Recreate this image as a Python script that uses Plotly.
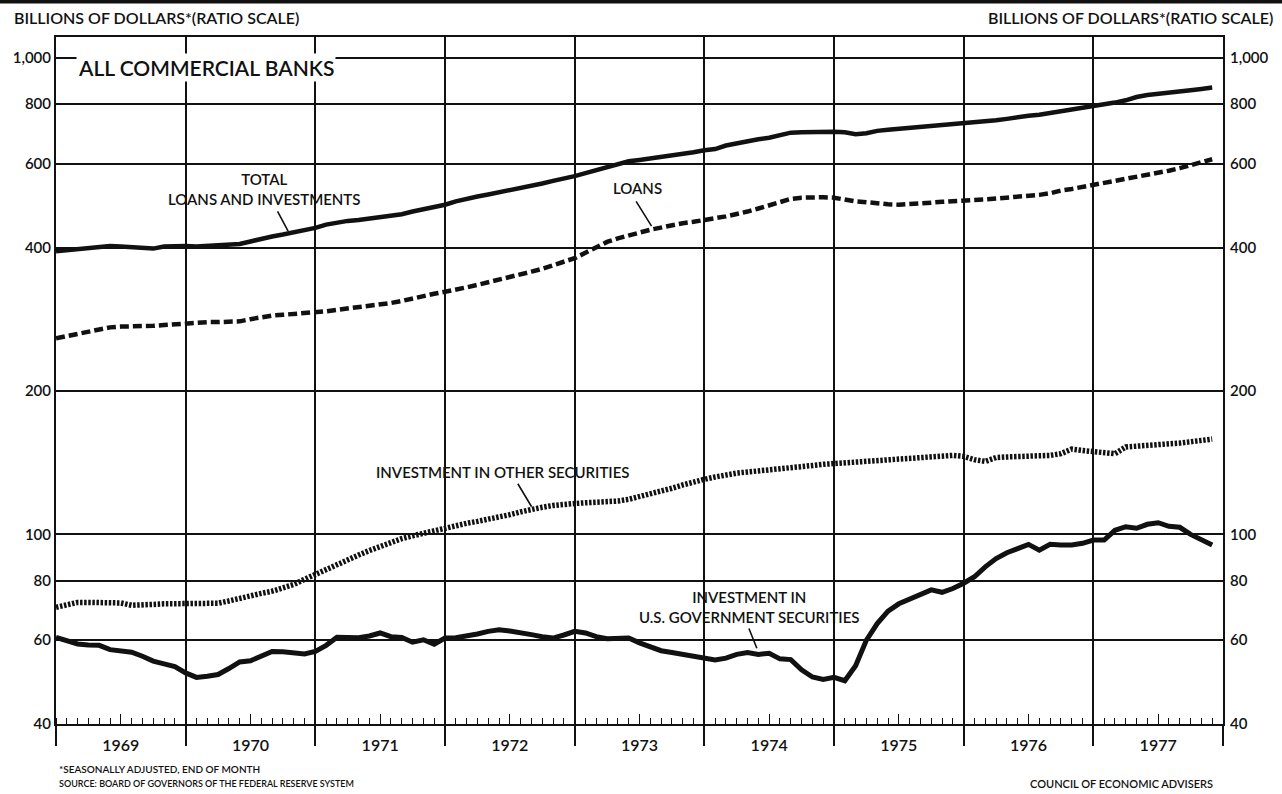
import math
import plotly.graph_objects as go

# Monthly observations, January 1969 through December 1977 (billions of dollars)
years = list(range(1969, 1978))
months = [y + m / 12 for y in years for m in range(12)]

total_loans_investments = [
    393, 395, 397, 399, 401, 403, 402, 401, 400, 398, 402, 403,
    403, 402, 403, 404, 405, 407, 412, 418, 422, 426, 430, 435,
    440, 447, 452, 455, 457, 460, 464, 467, 470, 476, 481, 487,
    492, 500, 507, 512, 517, 522, 528, 533, 538, 545, 552, 560,
    565, 573, 582, 590, 600, 607, 611, 615, 619, 623, 628, 634,
    640, 644, 655, 662, 670, 675, 680, 690, 697, 698, 699, 700,
    700, 698, 692, 695, 703, 707, 710, 713, 716, 720, 724, 728,
    731, 734, 736, 740, 745, 752, 756, 760, 766, 772, 778, 785,
    792, 799, 806, 815, 828, 836, 840, 844, 850, 856, 861, 867,
]

loans = [
    258, 261, 264, 267, 270, 272, 273, 273, 274, 274, 275, 276,
    278, 279, 279, 279, 279, 280, 283, 286, 288, 289, 290, 291,
    292, 294, 296, 298, 300, 302, 303, 306, 309, 313, 317, 320,
    323, 326, 330, 334, 338, 342, 346, 351, 356, 361, 367, 373,
    380, 390, 401, 411, 418, 425, 430, 436, 441, 446, 450, 453,
    456, 461, 465, 470, 476, 483, 490, 498, 506, 509, 510, 510,
    509, 504, 500, 498, 495, 493, 492, 493, 495, 497, 499, 500,
    501, 502, 505, 507, 509, 512, 514, 516, 520, 527, 531, 536,
    541, 546, 551, 557, 563, 569, 574, 580, 587, 595, 603, 613,
]

other_securities = [
    70.3, 71.2, 72.0, 72.0, 72.0, 72.0, 71.8, 71.0, 71.0, 71.3, 71.5, 71.5,
    71.5, 71.5, 71.5, 71.7, 72.5, 73.5, 74.4, 75.2, 76.0, 77.0, 78.5, 80.5,
    82.5, 84.5, 86.5, 88.5, 90.5, 92.5, 94.5, 96.5, 98.0, 99.3, 100.5, 101.8,
    103.5, 104.5, 105.5, 106.5, 107.5, 108.5, 110.0, 111.5, 113.0, 114.0, 115.0, 115.8,
    116.1, 116.5, 116.8, 117.0, 117.5, 118.5, 120.0, 121.5, 123.0, 125.0, 127.0, 129.0,
    130.5, 132.0, 133.5, 134.5, 135.2, 135.8, 136.5, 137.0, 137.5, 138.5, 139.5, 140.3,
    140.8, 141.0, 141.3, 141.6, 142.0, 142.5, 143.0, 143.5, 144.2, 145.0, 146.0, 146.5,
    145.8, 143.5, 142.3, 145.0, 145.4, 145.5, 145.6, 146.0, 146.5, 147.7, 151.0, 150.0,
    149.5, 148.5, 147.7, 152.6, 153.0, 153.5, 154.5, 155.0, 155.5, 156.5, 157.5, 158.5,
]

us_gov_securities = [
    60.8, 59.8, 58.9, 58.6, 58.5, 57.3, 57.0, 56.6, 55.5, 54.2, 53.5, 52.8,
    51.2, 50.1, 50.4, 50.8, 52.3, 54.0, 54.3, 55.5, 56.8, 56.7, 56.3, 56.1,
    56.8, 58.5, 60.8, 60.8, 60.7, 61.2, 62.1, 61.0, 60.8, 59.4, 60.1, 58.8,
    60.6, 60.7, 61.1, 61.8, 62.6, 63.1, 62.7, 62.3, 61.6, 61.0, 60.6, 61.5,
    62.6, 62.1, 61.0, 60.4, 60.6, 60.6, 59.2, 58.0, 57.0, 56.5, 56.0, 55.6,
    55.0, 54.5, 55.0, 56.0, 56.5, 56.0, 56.3, 54.8, 54.6, 52.0, 50.2, 49.6,
    50.1, 49.3, 53.0, 60.0, 65.0, 69.0, 71.5, 73.2, 75.0, 76.5, 75.6, 77.0,
    79.0, 81.5, 85.5, 89.0, 91.5, 93.5, 95.3, 92.7, 95.3, 95.0, 95.0, 95.8,
    97.3, 97.3, 102.0, 103.8, 103.0, 105.0, 105.8, 104.0, 103.5, 100.0, 97.5, 95.0,
]

y_tick_values = [40, 60, 80, 100, 200, 400, 600, 800, 1000]
y_tick_labels = ["40", "60", "80", "100", "200", "400", "600", "800", "1,000"]
year_labels = [str(y) for y in years]

FONT = "Lato"
INK = "#111111"
WEIGHT = 600

X_RANGE = [1969, 1978]
Y_RANGE = [1.60206, 3.0440]  # log10 of 40 and of the frame top


def font(size, weight=WEIGHT):
    return dict(family=FONT, size=size, color=INK, weight=weight)


fig = go.Figure()

fig.add_trace(go.Scatter(
    x=months, y=total_loans_investments, mode="lines",
    line=dict(color=INK, width=4.5), name="Total loans and investments",
))
fig.add_trace(go.Scatter(
    x=months, y=loans, mode="lines",
    line=dict(color=INK, width=4.5, dash="9px,4px"), name="Loans",
))
fig.add_trace(go.Scatter(
    x=months, y=other_securities, mode="lines",
    line=dict(color=INK, width=5.5, dash="2.5px,1.6px"), name="Investment in other securities",
))
fig.add_trace(go.Scatter(
    x=months, y=us_gov_securities, mode="lines",
    line=dict(color=INK, width=5), name="Investment in U.S. Government securities",
))
# transparent copy that carries the secondary (label) axes
fig.add_trace(go.Scatter(
    x=months, y=total_loans_investments, mode="lines", xaxis="x2", yaxis="y2",
    line=dict(color="rgba(0,0,0,0)", width=0), hoverinfo="skip", showlegend=False,
))

fig.update_layout(
    width=1282, height=794,
    margin=dict(l=56, r=59, t=37, b=70),
    paper_bgcolor="white", plot_bgcolor="white",
    showlegend=False,
    font=dict(family=FONT, color=INK),
    xaxis=dict(
        range=X_RANGE, showgrid=True, gridcolor=INK, gridwidth=1.5,
        tickmode="array", tickvals=list(range(1969, 1979)),
        ticks="outside", ticklen=20, tickwidth=1.5, tickcolor=INK,
        showticklabels=False, zeroline=False,
        showline=True, linecolor=INK, linewidth=2, mirror=True,
        minor=dict(tickmode="array", tickvals=months, ticks="inside",
                   ticklen=6, tickwidth=1.2, tickcolor=INK, showgrid=False),
    ),
    xaxis2=dict(
        range=X_RANGE, overlaying="x", side="bottom", anchor="y",
        tickmode="array", tickvals=[y + 0.5 for y in years], ticktext=year_labels,
        ticks="inside", ticklen=10, tickwidth=1.2, tickcolor=INK,
        showgrid=False, zeroline=False, showline=False,
        ticklabelstandoff=10,
        tickfont=font(16),
    ),
    yaxis=dict(
        type="log", range=Y_RANGE,
        tickmode="array", tickvals=y_tick_values, ticktext=y_tick_labels,
        showgrid=True, gridcolor=INK, gridwidth=1.5,
        ticks="", showline=True, linecolor=INK, linewidth=2, mirror=True,
        tickfont=font(15), zeroline=False,
    ),
    yaxis2=dict(
        type="log", range=Y_RANGE, overlaying="y", side="right", anchor="x",
        tickmode="array", tickvals=y_tick_values, ticktext=y_tick_labels,
        showgrid=False, ticks="", showline=False, ticklabelstandoff=6,
        tickfont=font(15), zeroline=False,
    ),
)

# heavy rule across the head of the page
fig.add_shape(type="line", xref="paper", yref="paper",
              x0=-0.05, x1=1.06, y0=1.0517, y1=1.0517,
              line=dict(color=INK, width=4))


def note(text, x, y, size, xanchor="center", yanchor="middle", align="center",
         bg=None, weight=WEIGHT):
    fig.add_annotation(text=text, x=x, y=y, xref="paper", yref="paper",
                       xanchor=xanchor, yanchor=yanchor, align=align,
                       showarrow=False, bgcolor=bg,
                       font=font(size, weight))


def pointer(x, value, ax, ay):
    # annotation positions on a log axis are given in log10 units
    fig.add_annotation(text=" ", x=x, y=math.log10(value), xref="x", yref="y",
                       ax=ax, ay=ay, showarrow=True, arrowhead=0,
                       arrowwidth=1.6, arrowcolor=INK, standoff=0,
                       font=dict(size=1))


note("BILLIONS OF DOLLARS*(RATIO SCALE)", -0.0377, 1.0277, 16, xanchor="left")
note("BILLIONS OF DOLLARS*(RATIO SCALE)", 1.0446, 1.0277, 16, xanchor="right")
note("ALL COMMERCIAL BANKS", 0.017, 0.9549, 21, xanchor="left", bg="white")

note("TOTAL<br>LOANS AND INVESTMENTS", 0.1782, 0.7787, 15)
note("LOANS", 0.4979, 0.7802, 15)
note("INVESTMENT IN OTHER SECURITIES", 0.383, 0.3668, 15)
note("INVESTMENT IN<br>U.S. GOVERNMENT SECURITIES", 0.5938, 0.1703, 15)

pointer(1970.79, 433, -11.6, -21.7)
pointer(1973.593, 443.7, -16.7, -26.7)
pointer(1972.668, 114.3, -15, -25)
pointer(1974.405, 57.7, -8.7, -21.7)

note("*SEASONALLY ADJUSTED, END OF MONTH", 0.0009, -0.0655, 10, xanchor="left")
note("SOURCE: BOARD OF GOVERNORS OF THE FEDERAL RESERVE SYSTEM", 0.0009, -0.0859, 9, xanchor="left")
note("COUNCIL OF ECONOMIC ADVISERS", 0.9931, -0.0859, 11, xanchor="right")

fig.write_html("out.html")
